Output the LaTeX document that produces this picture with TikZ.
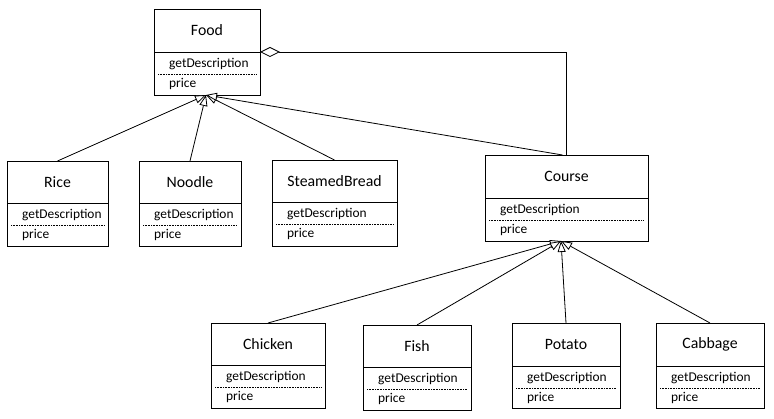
\documentclass[tikz,border=0pt]{standalone}
\usepackage{fontspec}
\setmainfont{Carlito}
\usetikzlibrary{arrows.meta}
\tikzset{
  boxst/.style={draw, line width=0.8pt, inner sep=0pt, outer sep=0pt},
  titlest/.style={inner sep=0pt, font=\fontsize{15.8}{18}\selectfont},
  memst/.style={inner sep=0pt, anchor=west, font=\fontsize{13.4}{15}\selectfont},
  dotst/.style={line width=0.6pt, dash pattern=on 0.8pt off 0.8pt},
  divst/.style={line width=0.8pt},
  gen/.style={line width=0.8pt, -{Triangle[open, length=11pt, width=8pt, fill=white]}},
  agg/.style={line width=0.8pt, {Diamond[open, length=20pt, width=10pt, fill=white]}-}
}
\newcommand\umlbox[7]{%
  \pgfmathsetmacro\bw{#4-#2}\pgfmathsetmacro\bh{#5-#3}%
  \node[boxst, anchor=north west, minimum width=\bw pt, minimum height=\bh pt] (#1) at (#2,#3) {};
  \node[titlest] (#1-t) at ({(#2+#4)/2},{(#3+#6)/2}) {#7};
  \draw[divst] (#2,#6) -- (#4,#6);
  \draw[dotst] (#2+4,#6+22) -- (#4-4,#6+22);
  \node[memst] (#1-m1) at (#2+15,#6+12) {getDescription};
  \node[memst] (#1-m2) at (#2+15,#6+32) {price};
}
\begin{document}
\begin{tikzpicture}[x=1pt, y=-1pt]
\useasboundingbox[fill=white] (0,0) rectangle (774,419);
\umlbox{food}{154}{9}{260}{95}{52}{Food}
\umlbox{rice}{7}{161}{108}{246}{203}{Rice}
\umlbox{noodle}{139}{161}{241}{246}{203}{Noodle}
\umlbox{bread}{272}{160}{397}{246}{202}{SteamedBread}
\umlbox{course}{485}{155}{648}{241}{198}{Course}
\umlbox{chicken}{211}{323}{325}{408}{365}{Chicken}
\umlbox{fish}{363}{325}{471}{410}{367}{Fish}
\umlbox{potato}{512}{323}{620}{408}{366}{Potato}
\umlbox{cabbage}{656}{323}{764}{408}{366}{Cabbage}
\coordinate (foodtip) at (206,95);
\coordinate (coursetip) at (561,241);
\draw[gen] (rice.north) -- (foodtip);
\draw[gen] (noodle.north) -- (foodtip);
\draw[gen] (bread.north) -- (foodtip);
\draw[gen] ([xshift=-4pt]course.north) -- (foodtip);
\draw[gen] (chicken.north) -- (coursetip);
\draw[gen] (fish.north) -- (coursetip);
\draw[gen] (potato.north) -- (coursetip);
\draw[gen] (cabbage.north) -- (coursetip);
\draw[agg] (food.east) -| (course.north);
\end{tikzpicture}
\end{document}
